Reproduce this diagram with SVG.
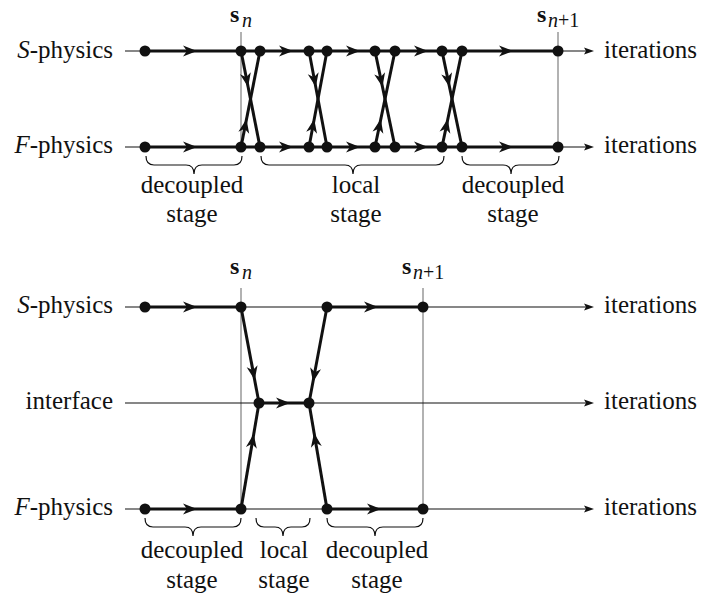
<svg xmlns="http://www.w3.org/2000/svg" xmlns:xlink="http://www.w3.org/1999/xlink" width="705" height="600" viewBox="0 0 705 600">
<style>
text{font-family:'Liberation Serif','Times New Roman',serif;font-size:25px;fill:#111}
.lab{text-anchor:end}
.mid{text-anchor:middle}
.thin{stroke:#111;stroke-width:1.2;fill:none}
.thick{stroke:#111;stroke-width:3;fill:none}
.grid{stroke:#999;stroke-width:1.5;fill:none}
.brace{stroke:#111;stroke-width:1.2;fill:none}
.dot{fill:#111}
.ah{fill:#111}
.sb{font-weight:bold;font-size:24px}
.sub{font-style:italic;font-size:20px}
</style>
<defs>
<path id="ah" class="ah" d="M0,0 L-14,-5.5 L-10,0 L-14,5.5 Z"/>
<path id="tah" class="ah" d="M0,0 L-10,-3.5 L-8,0 L-10,3.5 Z"/>
<circle id="d" r="5.5" class="dot"/>
</defs>

<g id="top-labels">
<text class="lab" x="113" y="57.5"><tspan font-style="italic">S</tspan>-physics</text>
<text class="lab" x="113" y="153"><tspan font-style="italic">F</tspan>-physics</text>
<text x="604" y="57.5">iterations</text>
<text x="604" y="153">iterations</text>
<text x="230" y="22" class="sb">s</text><text x="242" y="27" class="sub">n</text>
<text x="537" y="22" class="sb">s</text><text x="548" y="27" class="sub">n<tspan font-style="normal">+1</tspan></text>
<text class="mid" x="192" y="193">decoupled</text>
<text class="mid" x="192" y="222">stage</text>
<text class="mid" x="356" y="193">local</text>
<text class="mid" x="356" y="222">stage</text>
<text class="mid" x="513" y="193">decoupled</text>
<text class="mid" x="513" y="222">stage</text>
</g>

<g id="top-connectors">
<line class="grid" x1="241" y1="32" x2="241" y2="147"/>
<line class="grid" x1="558" y1="32" x2="558" y2="147"/>
<line class="thin" x1="125" y1="51" x2="590" y2="51"/>
<line class="thin" x1="125" y1="147" x2="590" y2="147"/>
<use href="#tah" transform="translate(594,51)"/>
<use href="#tah" transform="translate(594,147)"/>
<line class="thick" x1="145" y1="51" x2="558" y2="51"/>
<line class="thick" x1="145" y1="147" x2="558" y2="147"/>
<use href="#ah" transform="translate(197,51)"/>
<use href="#ah" transform="translate(293,51)"/>
<use href="#ah" transform="translate(360,51)"/>
<use href="#ah" transform="translate(428,51)"/>
<use href="#ah" transform="translate(513,51)"/>
<use href="#ah" transform="translate(197,147)"/>
<use href="#ah" transform="translate(293,147)"/>
<use href="#ah" transform="translate(360,147)"/>
<use href="#ah" transform="translate(428,147)"/>
<use href="#ah" transform="translate(513,147)"/>
<line class="thick" x1="241" y1="51" x2="260" y2="147"/>
<line class="thick" x1="241" y1="147" x2="260" y2="51"/>
<line class="thick" x1="309" y1="51" x2="327" y2="147"/>
<line class="thick" x1="309" y1="147" x2="327" y2="51"/>
<line class="thick" x1="375" y1="51" x2="395" y2="147"/>
<line class="thick" x1="375" y1="147" x2="395" y2="51"/>
<line class="thick" x1="442" y1="51" x2="462" y2="147"/>
<line class="thick" x1="442" y1="147" x2="462" y2="51"/>
<use href="#ah" transform="translate(248.1,87) rotate(78.8)"/>
<use href="#ah" transform="translate(246.5,119) rotate(-78.8)"/>
<use href="#ah" transform="translate(315.8,87) rotate(79.4)"/>
<use href="#ah" transform="translate(314.2,119) rotate(-79.4)"/>
<use href="#ah" transform="translate(382.5,87) rotate(78.2)"/>
<use href="#ah" transform="translate(380.8,119) rotate(-78.2)"/>
<use href="#ah" transform="translate(449.5,87) rotate(78.2)"/>
<use href="#ah" transform="translate(447.8,119) rotate(-78.2)"/>
<path class="brace" d="M146,156 Q146,165 154,165 L186,165 Q194,165 194,174 Q194,165 202,165 L234,165 Q242,165 242,156"/>
<path class="brace" d="M261,156 Q261,165 269,165 L345,165 Q353,165 353,174 Q353,165 361,165 L436,165 Q444,165 444,156"/>
<path class="brace" d="M462,156 Q462,165 470,165 L503,165 Q511,165 511,174 Q511,165 519,165 L551,165 Q559,165 559,156"/>
</g>

<g id="top-nodes">
<g id="tS145"><use href="#d" x="145" y="51"/></g>
<g id="tS241"><use href="#d" x="241" y="51"/></g>
<g id="tS260"><use href="#d" x="260" y="51"/></g>
<g id="tS309"><use href="#d" x="309" y="51"/></g>
<g id="tS327"><use href="#d" x="327" y="51"/></g>
<g id="tS375"><use href="#d" x="375" y="51"/></g>
<g id="tS395"><use href="#d" x="395" y="51"/></g>
<g id="tS442"><use href="#d" x="442" y="51"/></g>
<g id="tS462"><use href="#d" x="462" y="51"/></g>
<g id="tS558"><use href="#d" x="558" y="51"/></g>
<g id="tF145"><use href="#d" x="145" y="147"/></g>
<g id="tF241"><use href="#d" x="241" y="147"/></g>
<g id="tF260"><use href="#d" x="260" y="147"/></g>
<g id="tF309"><use href="#d" x="309" y="147"/></g>
<g id="tF327"><use href="#d" x="327" y="147"/></g>
<g id="tF375"><use href="#d" x="375" y="147"/></g>
<g id="tF395"><use href="#d" x="395" y="147"/></g>
<g id="tF442"><use href="#d" x="442" y="147"/></g>
<g id="tF462"><use href="#d" x="462" y="147"/></g>
<g id="tF558"><use href="#d" x="558" y="147"/></g>
</g>

<g id="bottom-labels">
<text class="lab" x="113" y="313"><tspan font-style="italic">S</tspan>-physics</text>
<text class="lab" x="113" y="409">interface</text>
<text class="lab" x="113" y="515"><tspan font-style="italic">F</tspan>-physics</text>
<text x="604" y="313">iterations</text>
<text x="604" y="409">iterations</text>
<text x="604" y="515">iterations</text>
<text x="230" y="274" class="sb">s</text><text x="242" y="279" class="sub">n</text>
<text x="402" y="274" class="sb">s</text><text x="413" y="279" class="sub">n<tspan font-style="normal">+1</tspan></text>
<text class="mid" x="192" y="558">decoupled</text>
<text class="mid" x="192" y="588">stage</text>
<text class="mid" x="284" y="558">local</text>
<text class="mid" x="284" y="588">stage</text>
<text class="mid" x="377" y="558">decoupled</text>
<text class="mid" x="377" y="588">stage</text>
</g>

<g id="bottom-connectors">
<line class="grid" x1="241" y1="288" x2="241" y2="509"/>
<line class="grid" x1="423" y1="288" x2="423" y2="509"/>
<line class="thin" x1="125" y1="307" x2="590" y2="307"/>
<line class="thin" x1="125" y1="403" x2="590" y2="403"/>
<line class="thin" x1="125" y1="509" x2="590" y2="509"/>
<use href="#tah" transform="translate(594,307)"/>
<use href="#tah" transform="translate(594,403)"/>
<use href="#tah" transform="translate(594,509)"/>
<line class="thick" x1="145" y1="307" x2="241" y2="307"/>
<line class="thick" x1="327" y1="307" x2="423" y2="307"/>
<line class="thick" x1="259" y1="403" x2="309" y2="403"/>
<line class="thick" x1="145" y1="509" x2="241" y2="509"/>
<line class="thick" x1="327" y1="509" x2="423" y2="509"/>
<use href="#ah" transform="translate(197,307)"/>
<use href="#ah" transform="translate(378,307)"/>
<use href="#ah" transform="translate(290,403)"/>
<use href="#ah" transform="translate(197,509)"/>
<use href="#ah" transform="translate(381,509)"/>
<line class="thick" x1="241" y1="307" x2="259" y2="403"/>
<line class="thick" x1="241" y1="509" x2="259" y2="403"/>
<line class="thick" x1="327" y1="307" x2="309" y2="403"/>
<line class="thick" x1="327" y1="509" x2="309" y2="403"/>
<use href="#ah" transform="translate(254.7,380) rotate(79.4)"/>
<use href="#ah" transform="translate(253.7,434) rotate(-80.4)"/>
<use href="#ah" transform="translate(313,382) rotate(100.6)"/>
<use href="#ah" transform="translate(314,433) rotate(-99.6)"/>
<path class="brace" d="M145,518 Q145,527 153,527 L185,527 Q193,527 193,536 Q193,527 201,527 L233,527 Q241,527 241,518"/>
<path class="brace" d="M256,518 Q256,527 264,527 L275,527 Q283,527 283,536 Q283,527 291,527 L302,527 Q310,527 310,518"/>
<path class="brace" d="M327,518 Q327,527 335,527 L367,527 Q375,527 375,536 Q375,527 383,527 L415,527 Q423,527 423,518"/>
</g>

<g id="bottom-nodes">
<g id="bS145"><use href="#d" x="145" y="307"/></g>
<g id="bS241"><use href="#d" x="241" y="307"/></g>
<g id="bS327"><use href="#d" x="327" y="307"/></g>
<g id="bS423"><use href="#d" x="423" y="307"/></g>
<g id="bI259"><use href="#d" x="259" y="403"/></g>
<g id="bI309"><use href="#d" x="309" y="403"/></g>
<g id="bF145"><use href="#d" x="145" y="509"/></g>
<g id="bF241"><use href="#d" x="241" y="509"/></g>
<g id="bF327"><use href="#d" x="327" y="509"/></g>
<g id="bF423"><use href="#d" x="423" y="509"/></g>
</g>
</svg>
